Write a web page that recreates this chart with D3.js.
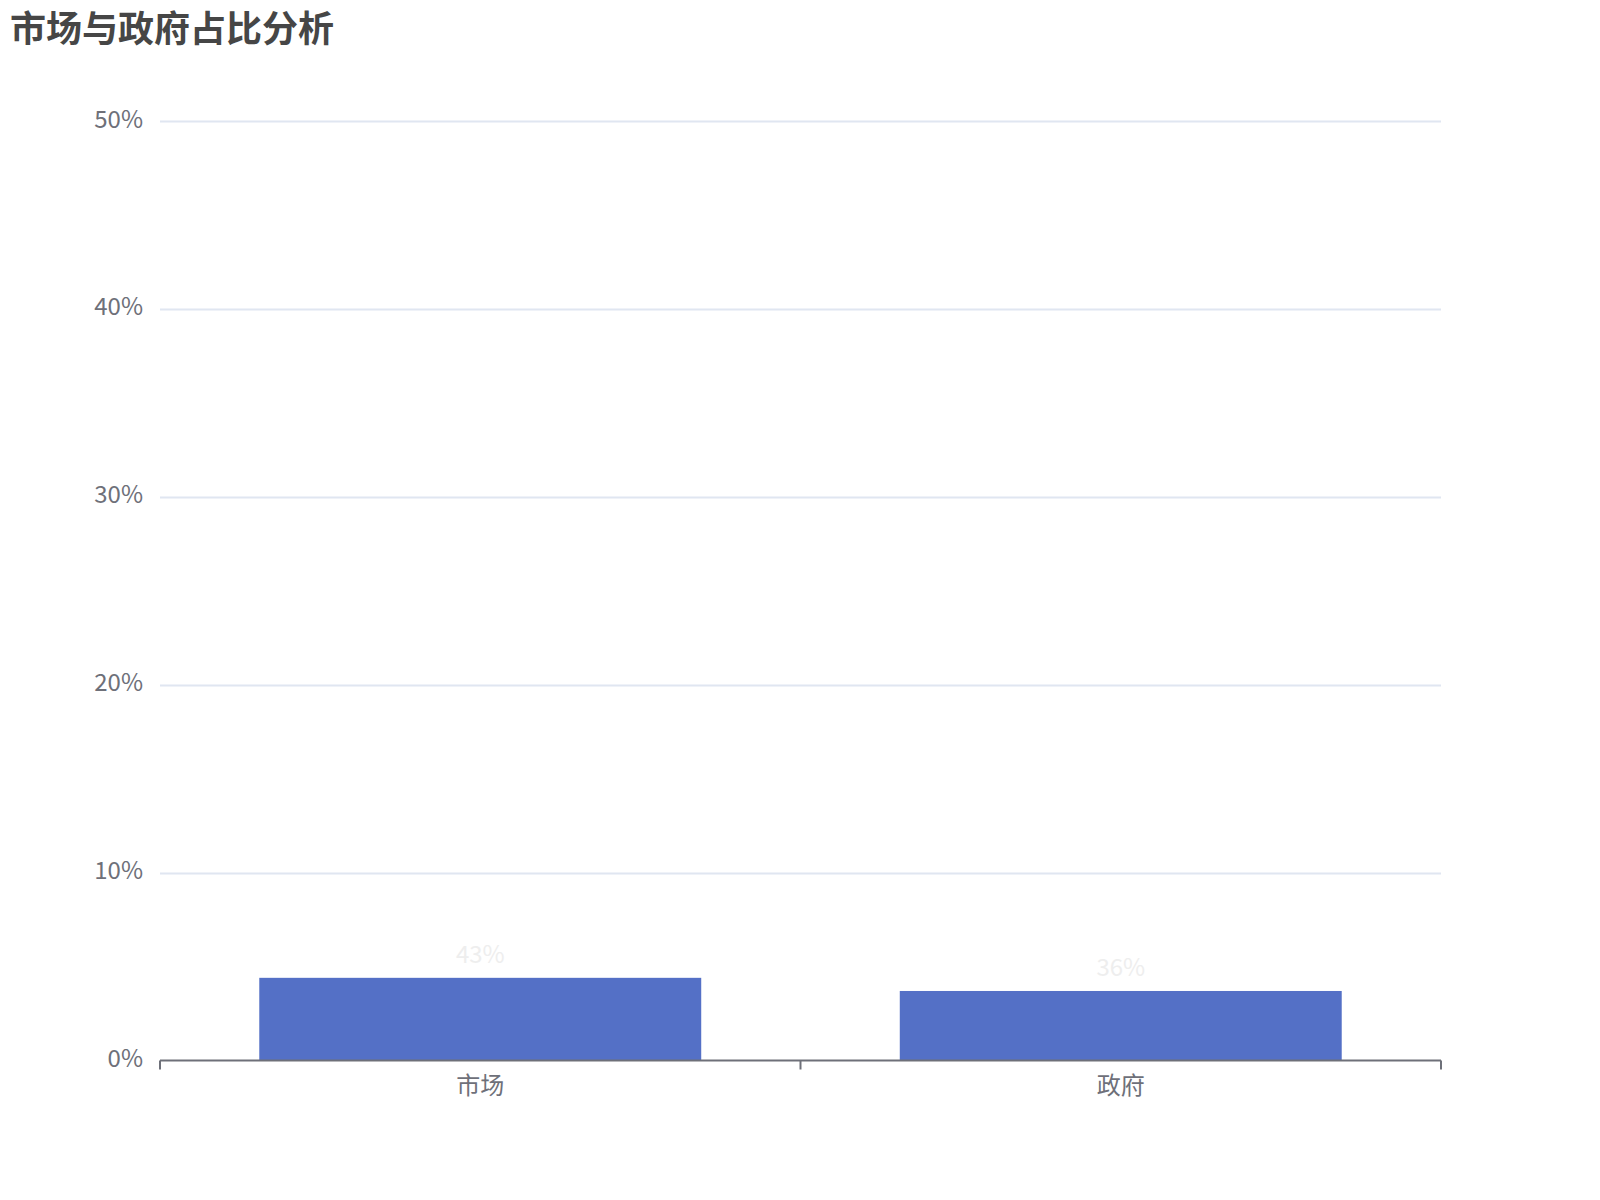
<!DOCTYPE html>
<html><head><meta charset="utf-8">
<script src="https://cdn.jsdelivr.net/npm/d3@7/dist/d3.min.js"></script>
<style>html,body{margin:0;padding:0;background:#fff;}svg{display:block;}</style>
</head><body><div id="chart"></div>
<script>
const title = "市场与政府占比分析";
const categories = ["市场", "政府"];
const values = [4.4, 3.7];
const valueLabels = ["43%", "36%"];
const yTicks = [0, 10, 20, 30, 40, 50];

const W = 1600, H = 1200;
const margin = {left: 160, right: 159, top: 121, bottom: 139.5};
const font = "'Noto Sans CJK SC','Noto Sans',sans-serif";
const svg = d3.select("#chart").append("svg").attr("width", W).attr("height", H);

svg.append("text").attr("x", 10).attr("y", 42)
  .attr("font-family", font).attr("font-size", 36).attr("font-weight", "bold")
  .attr("fill", "#464646").text(title);

const x = d3.scaleBand().domain(categories).range([margin.left, W - margin.right]).paddingInner(0).paddingOuter(0);
const y = d3.scaleLinear().domain([0, 50]).range([H - margin.bottom, margin.top]);

// grid
svg.append("g").selectAll("line").data(yTicks.filter(d => d > 0)).join("line")
  .attr("x1", margin.left).attr("x2", W - margin.right)
  .attr("y1", d => Math.round(y(d)) + 0.5).attr("y2", d => Math.round(y(d)) + 0.5)
  .attr("stroke", "#e0e6f1").attr("stroke-width", 2);

// y labels
svg.append("g").selectAll("text").data(yTicks).join("text")
  .attr("x", margin.left - 17).attr("y", d => y(d) - 4)
  .attr("text-anchor", "end").attr("dominant-baseline", "central")
  .attr("font-family", font).attr("font-size", 24).attr("fill", "#6e7079")
  .text(d => d + "%");

// bars
const bw = x.bandwidth() * 0.69;
svg.append("g").selectAll("rect").data(values).join("rect")
  .attr("x", (d, i) => x(categories[i]) + (x.bandwidth() - bw) / 2)
  .attr("width", bw)
  .attr("y", d => y(d)).attr("height", d => y(0) - y(d))
  .attr("fill", "#5470c6");

// bar labels
svg.append("g").selectAll("text").data(values).join("text")
  .attr("x", (d, i) => x(categories[i]) + x.bandwidth() / 2)
  .attr("y", d => y(d) - 15)
  .attr("text-anchor", "middle")
  .attr("font-family", font).attr("font-size", 24).attr("fill", "#eeeeee")
  .text((d, i) => valueLabels[i]);

// x axis
const ax = svg.append("g").attr("transform", `translate(0,${y(0)})`);
ax.append("line").attr("x1", margin.left).attr("x2", W - margin.right)
  .attr("y1", 0).attr("y2", 0).attr("stroke", "#6e7079").attr("stroke-width", 2);
const tickPos = [margin.left, ...categories.map(c => x(c) + x.bandwidth())];
ax.selectAll("line.tick").data(tickPos).join("line").attr("class", "tick")
  .attr("x1", d => d).attr("x2", d => d).attr("y1", 0).attr("y2", 9)
  .attr("stroke", "#6e7079").attr("stroke-width", 2);
ax.selectAll("text").data(categories).join("text")
  .attr("x", d => x(d) + x.bandwidth() / 2).attr("y", 33)
  .attr("text-anchor", "middle")
  .attr("font-family", font).attr("font-size", 24).attr("fill", "#6e7079")
  .text(d => d);
</script></body></html>
